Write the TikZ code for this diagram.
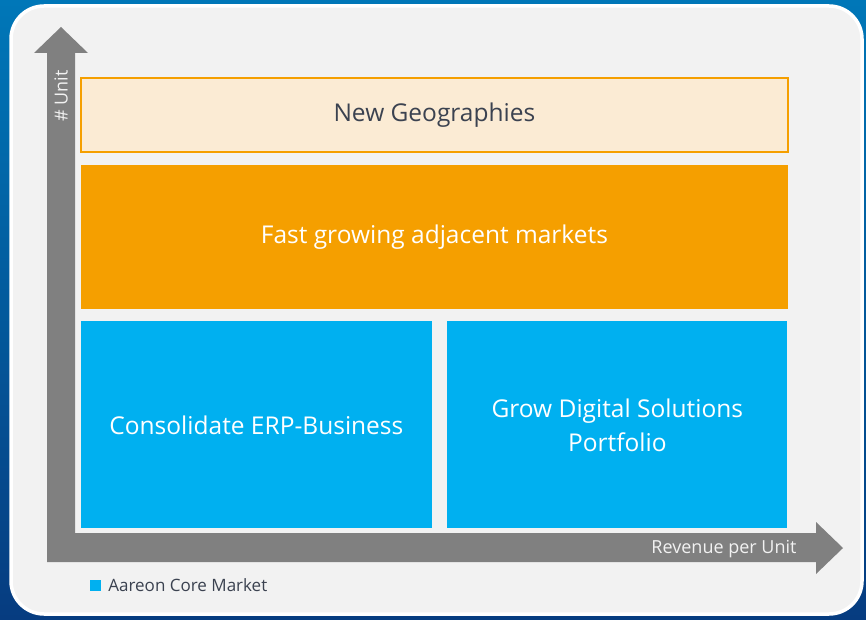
\documentclass[tikz,border=0pt]{standalone}
\usepackage{fontspec}
\setmainfont{Open Sans}
\usetikzlibrary{positioning}
\definecolor{frameblue}{RGB}{0,119,184}
\definecolor{framenavy}{RGB}{6,60,128}
\definecolor{panelgray}{RGB}{242,242,242}
\definecolor{axisgray}{RGB}{128,128,128}
\definecolor{corecyan}{RGB}{0,176,240}
\definecolor{groworange}{RGB}{245,159,0}
\definecolor{geocream}{RGB}{251,235,212}
\definecolor{labeldark}{RGB}{59,66,80}

\begin{document}
\begin{tikzpicture}[
    x=1pt, y=-1pt,
    band/.style={rectangle, inner sep=0pt, minimum width=707pt, font=\fontsize{24.5}{30}\selectfont},
    core/.style={rectangle, inner sep=0pt, fill=corecyan, minimum height=207pt, text=white, align=center, font=\fontsize{24.5}{34}\selectfont},
    axislabel/.style={inner sep=0pt, text=panelgray, font=\fontsize{18}{22}\selectfont},
    legendbox/.style={rectangle, fill=corecyan, minimum size=11pt, inner sep=0pt}
]

% frame
\shade[top color=frameblue, bottom color=framenavy] (0,0) rectangle (866,620);
\draw[white, line width=3.5pt, fill=panelgray, rounded corners=33pt] (11,6) rectangle (862,614);

% axes
\fill[axisgray] (47,562) -- (47,53) -- (34,53) -- (61,27) -- (88,53) -- (75,53) -- (75,533)
    -- (816,533) -- (816,522) -- (843,548) -- (816,574) -- (816,562) -- cycle;
\node[axislabel, rotate=90] (unit) at (61,96) {\# Unit};
\node[axislabel] (revenue) at (724,549) {Revenue per Unit};

% market bands
\node[band, draw=groworange, line width=1.8pt, fill=geocream, text=labeldark, minimum height=74pt, anchor=north west] (geo) at (80,77) {New Geographies};
\node[band, fill=groworange, text=white, minimum height=144pt, below=12pt of geo] (fast) {Fast growing adjacent markets};
\node[core, minimum width=351pt, below=12pt of fast.south west, anchor=north west] (erp) {Consolidate ERP-Business};
\node[core, minimum width=340pt, right=15pt of erp] (digital) {Grow Digital Solutions\\Portfolio};

% legend
\node[legendbox] (key) at (95.5,585.5) {};
\node[anchor=west, inner sep=0pt, text=labeldark, font=\fontsize{17}{20}\selectfont, right=7pt of key] (keytext) {Aareon Core Market};

\end{tikzpicture}
\end{document}
